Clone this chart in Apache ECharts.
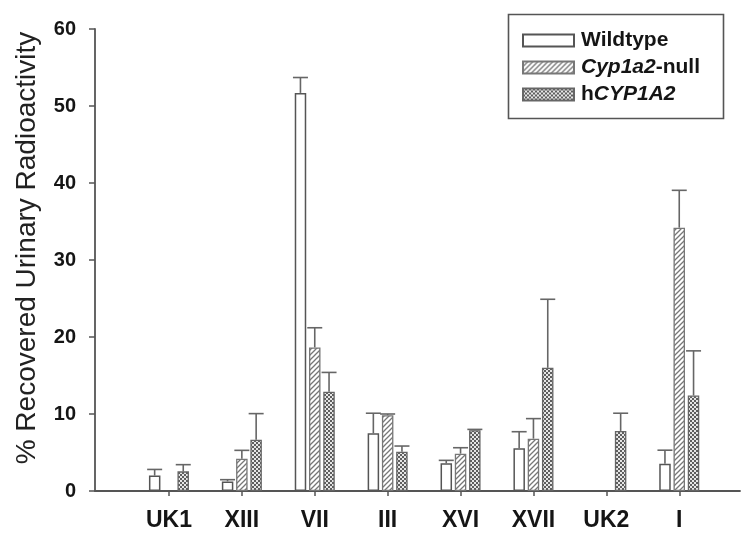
<!DOCTYPE html>
<html>
<head>
<meta charset="utf-8">
<script src="https://cdn.jsdelivr.net/npm/echarts@6/dist/echarts.min.js"></script>
<style>
html,body{margin:0;padding:0;background:#fff;}
#chart{width:744px;height:534px;}
</style>
</head>
<body>
<div id="chart"></div>
<script>
// ---- data ----
const categories = ['UK1', 'XIII', 'VII', 'III', 'XVI', 'XVII', 'UK2', 'I'];
const wildtypeMean = [2.0, 1.25, 51.7, 7.5, 3.6, 5.55, null, 3.55];
const wildtypeErr  = [0.8, 0.22, 2.0, 2.6, 0.38, 2.15, null, 1.75];
const nullMean     = [null, 4.2, 18.65, 9.85, 4.85, 6.8, null, 34.2];
const nullErr      = [null, 1.08, 2.55, 0.15, 0.77, 2.6, null, 4.85];
const humanMean    = [2.55, 6.65, 12.9, 5.1, 7.9, 16.0, 7.8, 12.4];
const humanErr     = [0.87, 3.4, 2.5, 0.74, 0.1, 8.9, 2.3, 5.8];
const yTicks = [0, 10, 20, 30, 40, 50, 60];
const yTitle = '% Recovered Urinary Radioactivity';

// ---- patterns ----
function hatchPattern() {
  const c = document.createElement('canvas');
  c.width = 5; c.height = 5;
  const g = c.getContext('2d');
  g.fillStyle = '#fff'; g.fillRect(0, 0, 5, 5);
  g.strokeStyle = '#777'; g.lineWidth = 1.3;
  g.beginPath();
  g.moveTo(-1, 6); g.lineTo(6, -1);
  g.moveTo(-1, 1); g.lineTo(1, -1);
  g.moveTo(4, 6); g.lineTo(6, 4);
  g.stroke();
  return c;
}
function checkPattern() {
  const c = document.createElement('canvas');
  c.width = 4; c.height = 4;
  const g = c.getContext('2d');
  g.fillStyle = '#5e5e5e'; g.fillRect(0, 0, 4, 4);
  g.fillStyle = '#e6e6e6';
  g.fillRect(0, 0, 2, 2); g.fillRect(2, 2, 2, 2);
  return c;
}

const FONT = 'Liberation Sans, Arial, Helvetica, sans-serif';
const BAR_W = 11.5;
const STEP = 14.3; // centre-to-centre distance of bars in a group

function errData(mean, err) {
  const out = [];
  mean.forEach((m, i) => {
    if (m != null && err[i] != null) out.push([i, m, m + err[i]]);
  });
  return out;
}
function errSeries(name, mean, err, k) {
  return {
    type: 'custom',
    name: name + '_err',
    xAxisIndex: 1, yAxisIndex: 1,
    z: 5,
    silent: true,
    data: errData(mean, err),
    renderItem: function (params, api) {
      const p0 = api.coord([api.value(0), api.value(1)]);
      const p1 = api.coord([api.value(0), api.value(2)]);
      const cx = p0[0] + k * STEP;
      const st = { stroke: '#666', lineWidth: 1.6 };
      return {
        type: 'group',
        children: [
          { type: 'line', shape: { x1: cx, y1: p0[1], x2: cx, y2: p1[1] }, style: st },
          { type: 'line', shape: { x1: cx - 7.5, y1: p1[1], x2: cx + 7.5, y2: p1[1] }, style: st }
        ]
      };
    }
  };
}

const chart = echarts.init(document.getElementById('chart'), null, { renderer: 'canvas' });
const barCommon = {
  type: 'bar', xAxisIndex: 1, yAxisIndex: 1,
  barWidth: BAR_W, barGap: '24%'
};
const option = {
  animation: false,
  backgroundColor: '#fff',
  grid: [
    { left: 95, right: 4, top: 29, bottom: 43 },
    { left: 132.5, right: 28.3, top: 29, bottom: 43 }
  ],
  xAxis: [
    { type: 'value', gridIndex: 0, min: 0, max: 1,
      axisLine: { show: true, onZero: false, lineStyle: { color: '#555', width: 1.8 } },
      axisTick: { show: false }, axisLabel: { show: false }, splitLine: { show: false } },
    { type: 'category', gridIndex: 1, data: categories,
      axisLine: { show: false },
      axisTick: { show: true, alignWithLabel: true, length: 5, lineStyle: { color: '#555', width: 1.5 } },
      axisLabel: { margin: 18, fontFamily: FONT, fontWeight: 'bold', fontSize: 23, color: '#151515' },
      splitLine: { show: false } }
  ],
  yAxis: [
    { type: 'value', gridIndex: 0, min: 0, max: 60, interval: 10,
      axisLine: { show: true, lineStyle: { color: '#555', width: 1.8 } },
      axisTick: { show: true, length: 6, lineStyle: { color: '#555', width: 1.5 } },
      axisLabel: { margin: 19, fontFamily: FONT, fontWeight: 'bold', fontSize: 20, color: '#151515',
        formatter: v => (yTicks.indexOf(v) >= 0 ? String(v) : '') },
      splitLine: { show: false } },
    { type: 'value', gridIndex: 1, min: 0, max: 60, interval: 10, show: false, splitLine: { show: false } }
  ],
  legend: {
    orient: 'vertical', left: 517, top: 25,
    data: ['Wildtype', 'Cyp1a2-null', 'hCYP1A2'],
    icon: 'rect', itemWidth: 51, itemHeight: 12, itemGap: 6,
    textStyle: { fontFamily: FONT, fontWeight: 'bold', fontSize: 21, color: '#151515', padding: [0, 0, 0, 2],
      rich: {
        n: { fontFamily: FONT, fontWeight: 'bold', fontSize: 21, color: '#151515' },
        i: { fontFamily: FONT, fontWeight: 'bold', fontStyle: 'italic', fontSize: 21, color: '#151515' }
      } },
    formatter: function (name) {
      if (name === 'Cyp1a2-null') return '{i|Cyp1a2}{n|-null}';
      if (name === 'hCYP1A2') return '{n|h}{i|CYP1A2}';
      return '{n|' + name + '}';
    }
  },
  graphic: [
    { type: 'rect', left: 506, top: 12, shape: { width: 215, height: 104 },
      style: { fill: 'none', stroke: '#555', lineWidth: 1.6 }, z: 100 },
    { type: 'text', x: 27, y: 248, rotation: Math.PI / 2,
      style: { text: yTitle, fontFamily: FONT, fontSize: 28, fill: '#222', align: 'center', verticalAlign: 'middle' } }
  ],
  series: [
    Object.assign({}, barCommon, { name: 'Wildtype', data: wildtypeMean.map(v => v == null ? '-' : v),
      itemStyle: { color: '#fff', borderColor: '#555', borderWidth: 1.5 } }),
    Object.assign({}, barCommon, { name: 'Cyp1a2-null', data: nullMean.map(v => v == null ? '-' : v),
      itemStyle: { color: { image: hatchPattern(), repeat: 'repeat' }, borderColor: '#777', borderWidth: 1.3 } }),
    Object.assign({}, barCommon, { name: 'hCYP1A2', data: humanMean.map(v => v == null ? '-' : v),
      itemStyle: { color: { image: checkPattern(), repeat: 'repeat' }, borderColor: '#666', borderWidth: 1.3 } }),
    errSeries('Wildtype', wildtypeMean, wildtypeErr, -1),
    errSeries('Cyp1a2-null', nullMean, nullErr, 0),
    errSeries('hCYP1A2', humanMean, humanErr, 1)
  ]
};
chart.setOption(option);
</script>
</body>
</html>
